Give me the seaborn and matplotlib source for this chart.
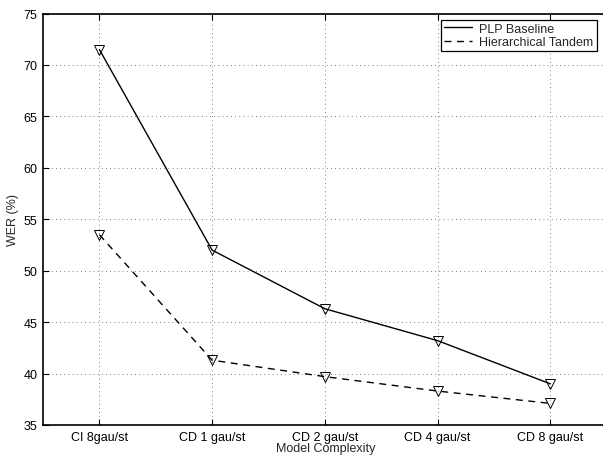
import numpy as np
import pandas as pd
import matplotlib
matplotlib.use("Agg")
import matplotlib.pyplot as plt
from matplotlib.lines import Line2D
import seaborn as sns

# values
categories = ["CI 8gau/st", "CD 1 gau/st", "CD 2 gau/st", "CD 4 gau/st", "CD 8 gau/st"]
plp_baseline = [71.5, 52.0, 46.3, 43.2, 39.0]
hier_tandem = [53.5, 41.3, 39.7, 38.3, 37.1]
y_ticks = [35, 40, 45, 50, 55, 60, 65, 70, 75]

pos = np.arange(1, len(categories) + 1)
df = pd.DataFrame({
    "pos": np.concatenate([pos, pos]),
    "wer": plp_baseline + hier_tandem,
    "series": ["PLP Baseline"] * len(pos) + ["Hierarchical Tandem"] * len(pos),
})

sns.set_style("white")
plt.rcParams["font.family"] = ["Liberation Sans", "DejaVu Sans"]

fig = plt.figure(figsize=(6.03, 4.56), dpi=100)
# right edge of the box sits just past the figure edge, as in the reference
ax = fig.add_axes([43 / 603, 30 / 456, 566 / 603, 411.5 / 456])

dash = (0, (5, 4))
for name, ls in [("PLP Baseline", "-"), ("Hierarchical Tandem", dash)]:
    sub = df[df["series"] == name]
    sns.lineplot(data=sub, x="pos", y="wer", ax=ax, color="black", linewidth=1.0,
                 linestyle=ls, marker="v", markersize=6.5, markerfacecolor="none",
                 markeredgecolor="black", markeredgewidth=0.7, legend=False)

ax.set_xlim(0.5, 5.52)
ax.set_ylim(35, 75)
ax.set_xticks(pos)
ax.set_xticklabels(categories)
ax.set_yticks(y_ticks)
ax.tick_params(direction="in", length=4, width=0.8, labelsize=9, top=True, right=True,
               bottom=True, left=True, pad=4, colors="black")
ax.grid(True, linestyle=(0, (1, 4)), color="#555555", linewidth=0.6)
for s in ax.spines.values():
    s.set_color("black")
    s.set_linewidth(1.2)

ax.set_xlabel("Model Complexity", fontsize=9, labelpad=-0.5)
ax.set_ylabel("WER (%)", fontsize=9, labelpad=3)

handles = [Line2D([], [], color="black", linewidth=1.0, linestyle="-"),
           Line2D([], [], color="black", linewidth=1.0, linestyle=dash)]
leg = ax.legend(handles, ["PLP Baseline", "Hierarchical Tandem"], loc="upper right",
                bbox_to_anchor=(0.978, 0.985), fontsize=9, frameon=True, fancybox=False,
                edgecolor="black", framealpha=1, borderpad=0.25, labelspacing=0.1,
                handlelength=2.2, handletextpad=0.6, borderaxespad=0)
leg.get_frame().set_linewidth(0.9)

fig.savefig("out.png", dpi=100)
